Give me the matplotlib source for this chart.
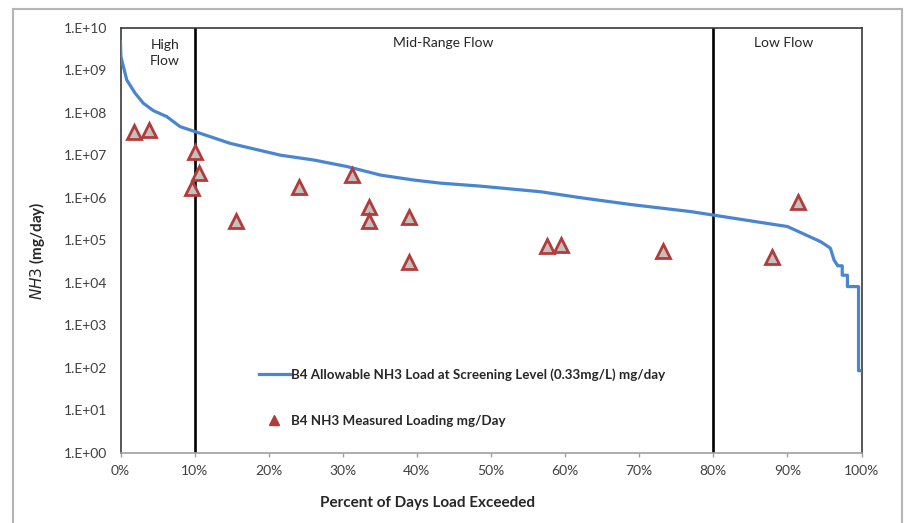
import numpy as np
import matplotlib
matplotlib.use("Agg")
import matplotlib.pyplot as plt
from matplotlib.ticker import FixedLocator, FuncFormatter, NullLocator
from matplotlib.lines import Line2D
from matplotlib.patches import Rectangle

plt.rcParams["font.family"] = ["Lato", "DejaVu Sans"]

# Load duration curve: allowable NH3 load at the screening level (0.33 mg/L)
curve_pct = [0.0, 0.05, 0.84, 1.96, 3.08, 4.43, 6.24, 8.04, 9.84, 14.8, 21.6,
             26.1, 30.6, 35.1, 39.6, 43.2, 48.6, 56.7, 62.1, 68.9, 77.0, 80.0,
             88.5, 90.0, 94.5, 95.8, 96.3, 96.8, 97.4, 97.4, 98.1, 98.1, 99.6,
             99.6, 99.8]
curve_load = [4.6e9, 2.1e9, 5.9e8, 2.9e8, 1.67e8, 1.12e8, 8.1e7, 4.7e7, 3.7e7,
              1.9e7, 1.0e7, 7.7e6, 5.4e6, 3.4e6, 2.6e6, 2.2e6, 1.87e6, 1.38e6,
              1.0e6, 6.9e5, 4.7e5, 3.9e5, 2.3e5, 2.1e5, 9.2e4, 6.5e4, 3.4e4,
              2.5e4, 2.5e4, 1.5e4, 1.5e4, 8.1e3, 8.1e3, 85, 85]

# Measured loadings
meas_pct = [1.8, 3.9, 10.1, 10.6, 9.7, 15.6, 24.1, 31.3, 33.6, 33.6, 38.9,
            39.0, 57.5, 59.4, 73.2, 87.9, 91.4]
meas_load = [3.5e7, 3.9e7, 1.2e7, 3.8e6, 1.66e6, 2.9e5, 1.8e6, 3.4e6, 6.2e5,
             2.9e5, 3.5e5, 3.1e4, 7.4e4, 7.7e4, 5.6e4, 4.1e4, 7.8e5]

# Flow regime boundaries and labels
zone_edges = [10, 80]
zone_labels = ["High\nFlow", "Mid-Range Flow", "Low Flow"]
zone_label_x = [6.0, 43.5, 89.5]
zone_label_y = [10 ** 9.40, 10 ** 9.64, 10 ** 9.64]

x_ticks = list(range(0, 101, 10))
y_ticks = [10.0 ** k for k in range(0, 11)]

line_label = "B4 Allowable NH3 Load at Screening Level (0.33mg/L) mg/day"
point_label = "B4 NH3 Measured Loading mg/Day"

W, H = 914, 523
fig = plt.figure(figsize=(W / 100, H / 100), dpi=100)
ax = fig.add_axes([120.5 / W, 1 - 452.7 / H, (861.5 - 120.5) / W, (452.7 - 27.7) / H])

line_color = "#4A86D0"
ax.plot(curve_pct, curve_load, color=line_color, lw=2.3, solid_joinstyle="round",
        zorder=3)
ax.plot(meas_pct, meas_load, linestyle="none", marker="^", markersize=10,
        markerfacecolor="#C4C0BE", markeredgecolor="#B23B3B", markeredgewidth=2,
        zorder=4)

for e in zone_edges:
    ax.axvline(e, color="black", lw=1.9, zorder=2)

for lab, xp, yp in zip(zone_labels, zone_label_x, zone_label_y):
    ax.text(xp, yp, lab, ha="center", va="center", fontsize=10,
            color="#262626", linespacing=1.35)

ax.set_yscale("log")
ax.set_xlim(0, 100)
ax.set_ylim(1, 1e10)
ax.xaxis.set_major_locator(FixedLocator(x_ticks))
ax.xaxis.set_major_formatter(FuncFormatter(lambda v, _: f"{v:.0f}%"))
ax.yaxis.set_major_locator(FixedLocator(y_ticks))
ax.yaxis.set_minor_locator(NullLocator())
ax.yaxis.set_major_formatter(
    FuncFormatter(lambda v, _: f"1.E+{int(round(np.log10(v))):02d}"))

ax.tick_params(axis="x", length=3, width=1, color="#A0A0A0", pad=6,
               labelsize=10, labelcolor="#404040")
ax.tick_params(axis="y", length=0, pad=9.5, labelsize=10, labelcolor="#404040")

for side in ["left", "top", "right"]:
    ax.spines[side].set_color("#3A3A3A")
    ax.spines[side].set_linewidth(1.2)
ax.spines["bottom"].set_color("#A0A0A0")
ax.spines["bottom"].set_linewidth(1.2)

handles = [
    Line2D([], [], color=line_color, lw=2.3),
    Line2D([], [], linestyle="none", marker="^", markersize=7,
           markerfacecolor="#B23B3B", markeredgecolor="#B23B3B"),
]
leg = fig.legend(handles, [line_label, point_label], loc="center left",
                 bbox_to_anchor=(259 / W, 1 - 397.4 / H), frameon=False,
                 prop={"weight": "bold", "size": 9.6}, handlelength=2.3,
                 handletextpad=0.1, labelspacing=2.55, borderpad=0,
                 borderaxespad=0)
for t in leg.get_texts():
    t.set_color("#262626")

fig.text(427 / W, 1 - 503 / H, "Percent of Days Load Exceeded", ha="center",
         va="center", fontsize=11, fontweight="bold", color="#262626")
fig.text(37 / W, 1 - 251 / H, r"$\bf\it{NH3}$ (mg/day)", rotation=90, ha="center",
         va="center", fontsize=11, fontweight="bold", color="#262626")

# Chart-area border
fig.add_artist(Rectangle((13 / W, -0.05), (902 - 13) / W, 1 - 9 / H + 0.05,
                         transform=fig.transFigure, fill=False,
                         edgecolor="#B5B5B5", lw=1.5))

fig.savefig("out.png", dpi=100)
